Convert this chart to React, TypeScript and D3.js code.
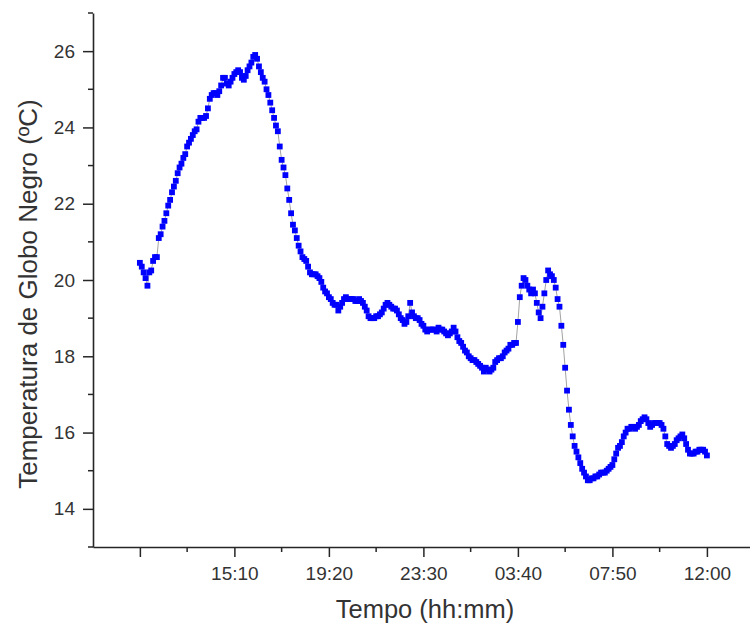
import React, { useEffect, useRef } from 'react';
import * as d3 from 'd3';

// black-globe temperature, one reading every 5 minutes from 11:00 to 12:00 next day
const startMinute = 660;
const stepMinutes = 5;
const temperatures = [
  20.45, 20.35, 20.2, 20.05, 19.85, 20.2, 20.25, 20.5, 20.6, 20.6,
  21.1, 21.2, 21.4, 21.55, 21.75, 21.95, 22.1, 22.3, 22.45, 22.6,
  22.8, 22.95, 23.05, 23.2, 23.3, 23.5, 23.6, 23.7, 23.8, 23.9,
  23.95, 24.15, 24.25, 24.25, 24.25, 24.3, 24.5, 24.75, 24.85, 24.9,
  24.9, 24.85, 24.95, 25.1, 25.3, 25.3, 25.15, 25.1, 25.2, 25.3,
  25.4, 25.45, 25.5, 25.45, 25.3, 25.25, 25.35, 25.5, 25.6, 25.7,
  25.85, 25.9, 25.8, 25.6, 25.45, 25.3, 25.2, 25.0, 24.85, 24.65,
  24.45, 24.25, 24.05, 23.9, 23.5, 23.15, 22.95, 22.75, 22.4, 22.1,
  21.75, 21.45, 21.3, 21.1, 20.9, 20.75, 20.6, 20.55, 20.5, 20.35,
  20.2, 20.15, 20.15, 20.15, 20.1, 20.05, 19.95, 19.8, 19.7, 19.65,
  19.55, 19.5, 19.4, 19.35, 19.35, 19.2, 19.3, 19.4, 19.5, 19.55,
  19.5, 19.5, 19.5, 19.5, 19.45, 19.45, 19.5, 19.45, 19.4, 19.3,
  19.2, 19.05, 19.0, 19.0, 19.0, 19.05, 19.05, 19.1, 19.15, 19.25,
  19.35, 19.4, 19.35, 19.3, 19.25, 19.25, 19.2, 19.1, 19.0, 18.95,
  18.85, 18.9, 19.05, 19.4, 19.15, 19.05, 19.0, 19.0, 18.95, 18.85,
  18.8, 18.7, 18.65, 18.7, 18.7, 18.7, 18.7, 18.65, 18.75, 18.7,
  18.7, 18.65, 18.6, 18.55, 18.6, 18.65, 18.75, 18.65, 18.5, 18.4,
  18.35, 18.25, 18.15, 18.1, 18.0, 17.95, 17.9, 17.9, 17.85, 17.8,
  17.75, 17.7, 17.6, 17.7, 17.65, 17.6, 17.65, 17.7, 17.85, 17.9,
  17.95, 17.95, 18.0, 18.1, 18.15, 18.2, 18.3, 18.3, 18.35, 18.35,
  18.9, 19.55, 19.85, 20.05, 20.0, 19.85, 19.75, 19.65, 19.75, 19.65,
  19.4, 19.15, 19.0, 19.3, 19.65, 20.0, 20.25, 20.15, 20.1, 20.0,
  19.8, 19.5, 19.3, 18.8, 18.3, 17.7, 17.1, 16.6, 16.2, 15.9,
  15.65, 15.5, 15.35, 15.2, 15.05, 14.95, 14.85, 14.75, 14.75, 14.8,
  14.8, 14.85, 14.85, 14.9, 14.95, 14.95, 14.95, 15.0, 15.05, 15.1,
  15.15, 15.3, 15.45, 15.6, 15.65, 15.75, 15.9, 16.0, 16.1, 16.1,
  16.15, 16.15, 16.1, 16.15, 16.2, 16.3, 16.35, 16.4, 16.35, 16.25,
  16.15, 16.2, 16.25, 16.25, 16.25, 16.25, 16.2, 16.1, 15.9, 15.7,
  15.65, 15.6, 15.65, 15.7, 15.8, 15.85, 15.9, 15.95, 15.85, 15.7,
  15.55, 15.45, 15.45, 15.45, 15.5, 15.5, 15.55, 15.55, 15.55, 15.5,
  15.4,
];

const xTickValues = [660, 910, 1160, 1410, 1660, 1910, 2160];
const xTickLabels = ['', '15:10', '19:20', '23:30', '03:40', '07:50', '12:00'];
const yTickValues = [14, 16, 18, 20, 22, 24, 26];

const App = () => {
  const ref = useRef<SVGSVGElement | null>(null);

  useEffect(() => {
    const width = 750;
    const height = 625;
    const left = 93, right = 750, top = 13, bottom = 547;

    const data = temperatures.map((t, i) => ({ min: startMinute + i * stepMinutes, t }));

    const svg = d3.select(ref.current);
    svg.selectAll('*').remove();
    svg.attr('width', width).attr('height', height);

    const x = d3.scaleLinear().domain([536, 2274]).range([left, right]);
    const y = d3.scaleLinear().domain([13, 27]).range([bottom, top]);

    const ink = '#262626';
    const font = 'Liberation Sans, Arial, sans-serif';

    // minor ticks halfway between labelled ones
    const xMinor = xTickValues.slice(0, -1).map(v => v + 125);
    const yMinor = d3.range(13, 28, 2);

    const xAxis = svg.append('g')
      .attr('transform', `translate(0,${bottom})`)
      .call(d3.axisBottom(x)
        .tickValues(xTickValues)
        .tickFormat((d, i) => xTickLabels[i])
        .tickSize(10)
        .tickPadding(10)
        .tickSizeOuter(0));
    xAxis.append('g')
      .selectAll('line')
      .data(xMinor)
      .join('line')
      .attr('x1', d => x(d)).attr('x2', d => x(d))
      .attr('y1', 0).attr('y2', 5)
      .attr('stroke', ink).attr('stroke-width', 1.5);

    const yAxis = svg.append('g')
      .attr('transform', `translate(${left},0)`)
      .call(d3.axisLeft(y)
        .tickValues(yTickValues)
        .tickSize(10)
        .tickPadding(8)
        .tickSizeOuter(0));
    yAxis.append('g')
      .selectAll('line')
      .data(yMinor)
      .join('line')
      .attr('y1', d => y(d)).attr('y2', d => y(d))
      .attr('x1', 0).attr('x2', -5)
      .attr('stroke', ink).attr('stroke-width', 1.5);

    [xAxis, yAxis].forEach(g => {
      g.select('.domain').attr('stroke', ink).attr('stroke-width', 1.6);
      g.selectAll('.tick line').attr('stroke', ink).attr('stroke-width', 1.5);
      g.selectAll('.tick text')
        .attr('fill', '#333')
        .attr('font-family', font)
        .attr('font-size', 19);
    });

    svg.append('text')
      .attr('x', 425)
      .attr('y', 618)
      .attr('text-anchor', 'middle')
      .attr('font-family', font)
      .attr('font-size', 25.5)
      .attr('fill', '#333')
      .text('Tempo (hh:mm)');

    svg.append('text')
      .attr('transform', `translate(37,294) rotate(-90)`)
      .attr('text-anchor', 'middle')
      .attr('font-family', font)
      .attr('font-size', 26)
      .attr('fill', '#333')
      .text('Temperatura de Globo Negro (ºC)');

    const line = d3.line<{ min: number; t: number }>()
      .x(d => x(d.min))
      .y(d => y(d.t));

    svg.append('path')
      .datum(data)
      .attr('fill', 'none')
      .attr('stroke', '#8a8a8a')
      .attr('stroke-width', 0.8)
      .attr('d', line);

    svg.append('g')
      .selectAll('rect')
      .data(data)
      .join('rect')
      .attr('x', d => x(d.min) - 2.9)
      .attr('y', d => y(d.t) - 2.9)
      .attr('width', 5.8)
      .attr('height', 5.8)
      .attr('fill', '#0000ff');
  }, []);

  return (
    <svg ref={ref} style={{ position: 'absolute', left: 0, top: 0, background: '#fff' }} />
  );
};

export default App;
